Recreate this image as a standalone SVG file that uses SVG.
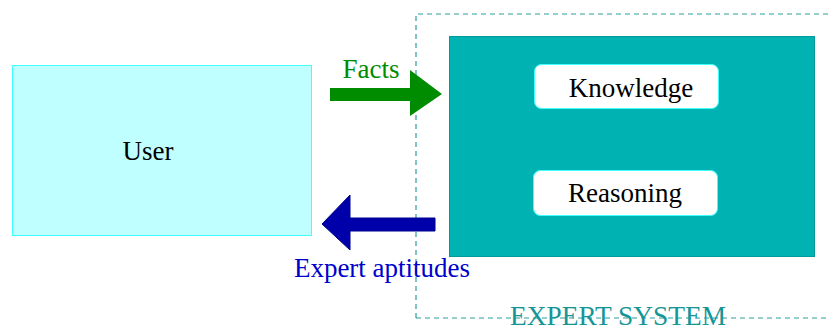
<svg xmlns="http://www.w3.org/2000/svg" width="830" height="327" viewBox="0 0 830 327">
<style>
text{font-family:"Liberation Serif","Times New Roman",serif;font-size:27px;text-anchor:middle}
.inner{fill:#ffffff;stroke:#40ffff;stroke-width:1}
</style>
<rect width="830" height="327" fill="#ffffff"/>
<g id="expert-system">
<path d="M416,318 L416,14 L828,14 M416,318 L828,318" fill="none" stroke="#2a9d9d" stroke-width="1.2" stroke-dasharray="5,4"/>
<rect x="449.5" y="36.5" width="365" height="220" fill="#00b2b2" stroke="#009a9a" stroke-width="1"/>
<text x="618" y="325" font-size="27" textLength="216" lengthAdjust="spacingAndGlyphs" fill="#159595">EXPERT SYSTEM</text>
</g>
<g id="user">
<rect x="12.5" y="65.5" width="299" height="170" fill="#c0ffff" stroke="#40ffff" stroke-width="1"/>
<text x="148" y="160" fill="#000000">User</text>
</g>
<g id="knowledge">
<rect class="inner" x="534.5" y="64.5" width="184" height="44" rx="7"/>
<text x="631" y="97" fill="#000000">Knowledge</text>
</g>
<g id="reasoning">
<rect class="inner" x="533.5" y="170.5" width="184" height="45" rx="7"/>
<text x="625" y="202" fill="#000000">Reasoning</text>
</g>
<g id="connectors">
<polygon points="330,88 410,88 410,70 442,94 410,116 410,101 330,101" fill="#008c00"/>
<text x="371" y="78" fill="#008c00">Facts</text>
<polygon points="435,218 350,218 350,195 322,224 350,250 350,231 435,231" fill="#0000aa" stroke="#00008b" stroke-width="1"/>
<text x="382" y="277" fill="#0000cc">Expert aptitudes</text>
</g>
</svg>
